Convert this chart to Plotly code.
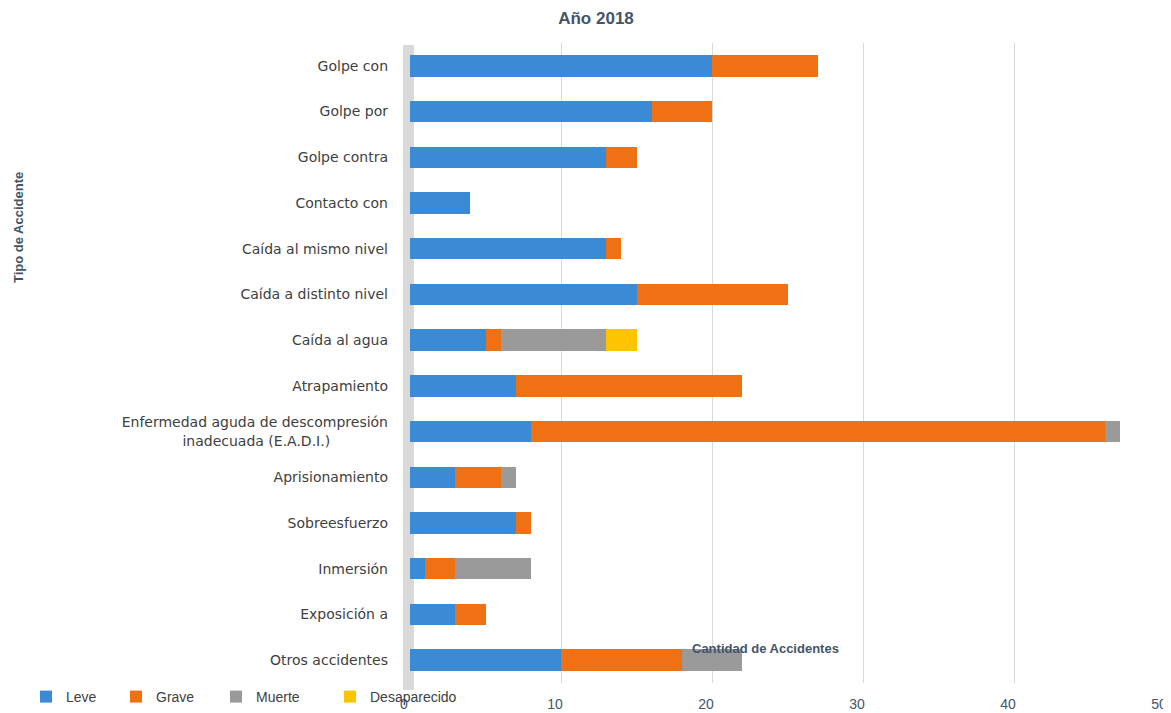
import plotly.graph_objects as go

categories = ["Golpe con", "Golpe por", "Golpe contra", "Contacto con",
              "Caída al mismo nivel", "Caída a distinto nivel", "Caída al agua",
              "Atrapamiento",
              "Enfermedad aguda de descompresión<br>inadecuada (E.A.D.I.)" + "\u00a0" * 13,
              "Aprisionamiento", "Sobreesfuerzo", "Inmersión", "Exposición a",
              "Otros accidentes"]
leve = [20, 16, 13, 4, 13, 15, 5, 7, 8, 3, 7, 1, 3, 10]
grave = [7, 4, 2, 0, 1, 10, 1, 15, 38, 3, 1, 2, 2, 8]
muerte = [0, 0, 0, 0, 0, 0, 7, 0, 1, 1, 0, 5, 0, 4]
desaparecido = [0, 0, 0, 0, 0, 0, 2, 0, 0, 0, 0, 0, 0, 0]
x_ticks = [0, 10, 20, 30, 40, 50]

series = [("Leve", leve, "#3A8AD6"), ("Grave", grave, "#F07014"),
          ("Muerte", muerte, "#9A9A9A"), ("Desaparecido", desaparecido, "#FFC400")]

# the page body adds an 8px offset; work in figure coordinates = screen - 8
OFF = 8
W, H = 1171 - OFF, 713 - OFF
L, R, T, B = 410 - OFF, 6, 43 - OFF, 713 - 683
pw, ph = W - L - R, H - T - B


def fx(px):
    return (px - OFF - L) / pw


def fy(py):
    return (H - B - (py - OFF)) / ph


# legend text start positions (screen px) in the reference
legend_px = [62, 152, 252, 366]
legend_names = ["legend", "legend2", "legend3", "legend4"]

fig = go.Figure()
for (name, vals, col), lg in zip(series, legend_names):
    fig.add_trace(go.Bar(y=categories, x=vals, name=name, orientation="h",
                         marker=dict(color=col, line=dict(width=0)),
                         width=0.47, legend=lg))

legend_font = dict(family="Liberation Sans Narrow, Liberation Sans, Arial", size=14, color="#404040")
layout_legends = {}
for lg, px in zip(legend_names, legend_px):
    layout_legends[lg] = dict(orientation="h", xref="container", yref="container",
                              x=(px - OFF - 36) / W, y=(H - (697 - OFF)) / H,
                              xanchor="left", yanchor="middle",
                              font=legend_font, bgcolor="rgba(0,0,0,0)")

fig.update_layout(
    width=W, height=H, barmode="stack", showlegend=True,
    paper_bgcolor="white", plot_bgcolor="white",
    margin=dict(l=L, r=R, t=T, b=B, autoexpand=False),
    font=dict(family="DejaVu Sans, Liberation Sans, Arial", size=13, color="#404040"),
    title=dict(text="<b>Año 2018</b>", x=(596 - OFF) / W, xanchor="center",
               y=1 - (18 - OFF) / H, yanchor="middle", yref="container",
               font=dict(family="Liberation Sans, Arial", size=17, color="#44546A")),
    xaxis=dict(range=[0, 50], tickvals=x_ticks, showgrid=True, gridcolor="#D9D9D9",
               gridwidth=1, zeroline=False, showline=False, ticks="", automargin=False,
               ticklabelshift=-6, ticklabelstandoff=11,
               tickfont=dict(family="Liberation Sans Narrow, Liberation Sans, Arial", size=14,
                             color="#44546A")),
    yaxis=dict(autorange="reversed", showgrid=False, zeroline=False, showline=False,
               ticks="", ticklabelstandoff=21, automargin=False,
               tickfont=dict(family="DejaVu Sans, Liberation Sans", size=14, color="#404040")),
    bargap=0.5,
    **layout_legends,
)

# left 3D wall
fig.add_shape(type="rect", xref="paper", yref="paper",
              x0=fx(403), x1=fx(414), y0=fy(690), y1=fy(45),
              fillcolor="#D9D9D9", line=dict(width=0), layer="below")

fig.add_annotation(text="<b>Tipo de Accidente</b>", textangle=-90, showarrow=False,
                   xref="paper", yref="paper", x=fx(18), y=fy(228),
                   xanchor="center", yanchor="middle",
                   font=dict(family="Liberation Sans Narrow, Liberation Sans, Arial", size=13,
                             color="#44546A"))
fig.add_annotation(text="<b>Cantidad de Accidentes</b>", showarrow=False,
                   xref="paper", yref="paper", x=fx(765), y=fy(648),
                   xanchor="center", yanchor="middle",
                   font=dict(family="Liberation Sans, Arial", size=13, color="#44546A"))

fig.write_html("out.html")
